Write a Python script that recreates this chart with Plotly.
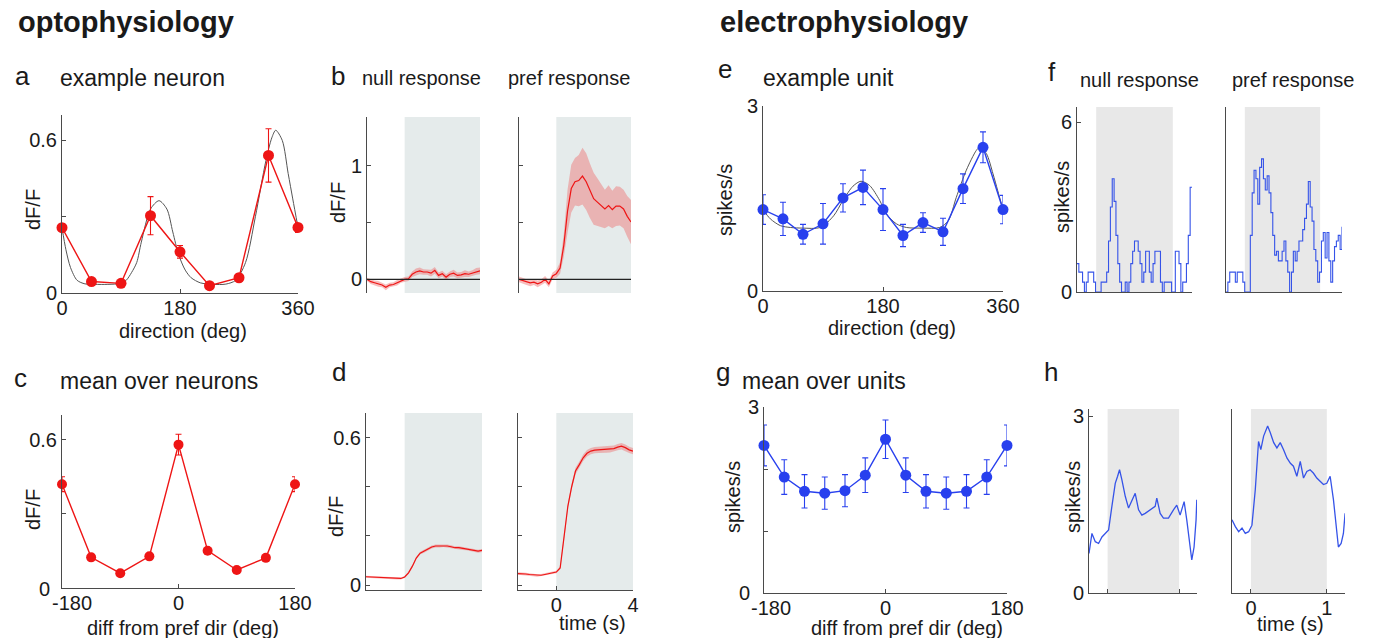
import numpy as np
import plotly.graph_objects as go

W, H = 1374, 638
FONT = "Liberation Sans, Arial, Helvetica, sans-serif"
TXT = "#1a1a1a"
AXC = "#4a4a4a"
RED = "#ee1515"
BLUE = "#2840ee"
BAND = "rgba(238,110,110,0.45)"
SHADE_OPTO = "#e5ebeb"
SHADE_EPHYS = "#e8e8e8"

# ---------------- data: optophysiology ----------------
dir_a = [0, 45, 90, 135, 180, 225, 270, 315, 360]
resp_a = [0.257, 0.045, 0.038, 0.304, 0.162, 0.029, 0.06, 0.541, 0.258]
err_a = [0.015, 0.008, 0.008, 0.075, 0.025, 0.006, 0.015, 0.105, 0.02]
fit_dir_a = [0, 6, 13, 23, 35, 50, 70, 90, 98, 106, 114, 121, 135, 148, 160, 169, 178, 188, 197,
             211, 230, 250, 265, 280, 295, 311, 320, 326, 336, 345, 352, 360]
fit_a = [0.257, 0.17, 0.10, 0.05, 0.036, 0.034, 0.034, 0.038, 0.05, 0.08, 0.12, 0.20, 0.33, 0.363,
         0.33, 0.24, 0.15, 0.09, 0.06, 0.04, 0.034, 0.035, 0.05, 0.12, 0.30, 0.52, 0.61, 0.64,
         0.60, 0.47, 0.37, 0.258]

t_opto = np.linspace(-2, 4, 31)          # time base (s), 0.2 s bins
stim_opto = [0, 4]
b_null_mean = [0.0, -0.02, -0.03, -0.04, -0.05, -0.07, -0.05, -0.045, -0.03, -0.01, 0.0, 0.005,
               0.045, 0.065, 0.075, 0.065, 0.065, 0.055, 0.08, 0.035, 0.05, 0.02, 0.045, 0.055,
               0.035, 0.04, 0.05, 0.045, 0.055, 0.07, 0.075]
b_null_sem = [0.015, 0.02, 0.02, 0.025, 0.02, 0.025, 0.02, 0.02, 0.025, 0.02, 0.02, 0.02, 0.025,
              0.03, 0.03, 0.025, 0.025, 0.03, 0.03, 0.025, 0.025, 0.025, 0.025, 0.03, 0.025,
              0.025, 0.03, 0.025, 0.025, 0.03, 0.03]
b_pref_mean = [0.0, -0.01, -0.025, -0.03, -0.025, -0.04, -0.025, 0.0, -0.04, 0.03, 0.05, 0.1, 0.3,
               0.6, 0.8, 0.86, 0.87, 0.91, 0.86, 0.78, 0.71, 0.68, 0.65, 0.62, 0.65, 0.615, 0.645,
               0.645, 0.62, 0.555, 0.505]
b_pref_sem = [0.025, 0.025, 0.025, 0.03, 0.025, 0.03, 0.025, 0.03, 0.03, 0.03, 0.035, 0.05, 0.1,
              0.19, 0.21, 0.21, 0.225, 0.25, 0.25, 0.24, 0.23, 0.21, 0.19, 0.17, 0.18, 0.165,
              0.175, 0.17, 0.17, 0.18, 0.195]

diff_c = [-180, -135, -90, -45, 0, 45, 90, 135, 180]
resp_c = [0.42, 0.124, 0.06, 0.128, 0.58, 0.151, 0.073, 0.122, 0.42]
err_c = [0.03, 0.008, 0.006, 0.008, 0.042, 0.008, 0.006, 0.008, 0.03]

d_null_mean = [0.034, 0.033, 0.032, 0.031, 0.030, 0.030, 0.029, 0.028, 0.027, 0.027, 0.033, 0.05,
               0.077, 0.11, 0.13, 0.138, 0.145, 0.155, 0.159, 0.159, 0.161, 0.159, 0.156, 0.152,
               0.152, 0.149, 0.148, 0.145, 0.142, 0.138, 0.141]
d_null_sem = [0.004, 0.004, 0.004, 0.004, 0.004, 0.004, 0.004, 0.004, 0.004, 0.004, 0.004, 0.005,
              0.005, 0.005, 0.006, 0.006, 0.006, 0.006, 0.006, 0.006, 0.006, 0.006, 0.006, 0.006,
              0.006, 0.006, 0.006, 0.006, 0.006, 0.006, 0.006]
d_pref_mean = [0.047, 0.047, 0.045, 0.043, 0.041, 0.039, 0.04, 0.043, 0.046, 0.05, 0.053, 0.07,
               0.186, 0.32, 0.40, 0.464, 0.49, 0.518, 0.536, 0.545, 0.549, 0.55, 0.549, 0.551,
               0.552, 0.555, 0.561, 0.565, 0.559, 0.55, 0.545]
d_pref_sem = [0.005, 0.005, 0.005, 0.005, 0.005, 0.005, 0.005, 0.005, 0.005, 0.005, 0.005, 0.006,
              0.008, 0.01, 0.012, 0.013, 0.013, 0.013, 0.013, 0.013, 0.013, 0.013, 0.013, 0.013,
              0.013, 0.013, 0.013, 0.013, 0.013, 0.013, 0.013]

# ---------------- data: electrophysiology ----------------
dir_e = [0, 30, 60, 90, 120, 150, 180, 210, 240, 270, 300, 330, 360]
resp_e = [1.32, 1.17, 0.92, 1.09, 1.51, 1.68, 1.32, 0.90, 1.11, 0.96, 1.66, 2.33, 1.32]
err_e = [0.24, 0.27, 0.16, 0.33, 0.23, 0.28, 0.34, 0.18, 0.16, 0.22, 0.24, 0.25, 0.23]
fit_dir_e = [0, 11, 26, 41, 60, 86, 106, 120, 135, 147, 160, 175, 185, 200, 215, 240, 265, 278,
             290, 305, 320, 325, 335, 345, 352, 360]
fit_e = [1.32, 1.17, 1.06, 1.03, 1.02, 1.03, 1.22, 1.47, 1.70, 1.78, 1.71, 1.47, 1.25, 1.09, 1.03,
         1.02, 1.03, 1.14, 1.52, 1.96, 2.28, 2.33, 2.23, 1.90, 1.63, 1.32]

t_f_null = np.linspace(-0.25, 1.25, 63)   # 25 ms bins
t_f_pref = np.linspace(-0.25, 1.29, 63)
stim_ephys = [0, 1]
f_null = [1.0, 0.7, 0.7, 0.35, 0, 0.35, 0.7, 0.7, 0.7, 0.35, 0, 0, 0, 0.35, 0.35, 0.35, 0.7, 1.8,
          3.0, 4.0, 3.2, 2.0, 1.0, 0.35, 0, 0, 0.35, 0, 0.35, 1.0, 1.44, 1.8, 1.8, 1.44, 1.0,
          0.35, 0.7, 1.44, 1.44, 0.7, 0.35, 1.0, 1.44, 1.44, 1.44, 0.35, 0, 0.35, 0.35, 0.35,
          0.35, 0, 0, 1.44, 1.44, 1.0, 0, 0.35, 0.35, 1.0, 2.0, 3.7, 3.7]
f_pref = [0, 0.35, 0.7, 0.7, 0.7, 0.35, 0.7, 0.7, 0.7, 0.35, 0, 0, 0, 2.0, 3.5, 4.3, 4.0, 3.1,
          4.4, 4.7, 4.0, 3.6, 4.1, 3.5, 2.8, 2.0, 1.3, 1.44, 1.1, 1.1, 1.44, 1.8, 1.1, 0.7, 0,
          0.7, 1.44, 1.1, 1.44, 1.8, 1.8, 2.2, 2.6, 3.1, 3.9, 3.0, 2.5, 1.5, 1.1, 0.35, 0.7, 1.8,
          2.1, 1.2, 2.1, 1.1, 0.35, 1.1, 1.6, 1.8, 2.0, 1.5, 2.3]

diff_g = [-180, -150, -120, -90, -60, -30, 0, 30, 60, 90, 120, 150, 180]
resp_g = [2.38, 1.87, 1.64, 1.61, 1.65, 1.90, 2.48, 1.90, 1.64, 1.61, 1.64, 1.87, 2.38]
err_g = [0.33, 0.28, 0.27, 0.26, 0.26, 0.28, 0.31, 0.28, 0.27, 0.26, 0.27, 0.28, 0.33]

h_null_t = [-0.26, -0.219, -0.172, -0.126, -0.079, -0.033, 0.014, 0.06, 0.107, 0.14, 0.167, 0.2,
            0.247, 0.293, 0.34, 0.386, 0.433, 0.479, 0.526, 0.595, 0.665, 0.688, 0.735, 0.781,
            0.851, 0.921, 0.967, 1.014, 1.07, 1.107, 1.144, 1.177, 1.209, 1.237, 1.247]
h_null = [0.67, 1.01, 0.87, 0.84, 0.95, 1.01, 1.07, 1.47, 1.86, 1.98, 2.09, 1.92, 1.64, 1.44, 1.58,
          1.69, 1.41, 1.32, 1.35, 1.41, 1.47, 1.61, 1.35, 1.27, 1.27, 1.41, 1.49, 1.32, 1.55, 1.24,
          0.84, 0.56, 0.78, 1.24, 1.58]
h_pref_t = [-0.25, -0.206, -0.162, -0.118, -0.075, -0.03, 0.013, 0.057, 0.1, 0.13, 0.167, 0.22,
            0.254, 0.3, 0.342, 0.386, 0.43, 0.474, 0.52, 0.56, 0.605, 0.65, 0.693, 0.737, 0.78,
            0.825, 0.868, 0.912, 0.956, 1.0, 1.044, 1.088, 1.123, 1.153, 1.189, 1.219, 1.241]
h_pref = [1.24, 1.125, 1.04, 1.10, 1.01, 1.04, 1.15, 1.75, 2.57, 2.43, 2.66, 2.83, 2.72, 2.55,
          2.46, 2.55, 2.43, 2.29, 2.20, 2.15, 1.98, 2.23, 1.95, 2.06, 2.09, 2.03, 1.95, 1.89, 1.84,
          1.86, 1.98, 1.58, 1.125, 0.78, 0.84, 1.01, 1.35]

# ---------------- layout helpers ----------------
def px_dom(x0, x1, y0, y1):
    return [x0 / W, x1 / W], [1 - y1 / H, 1 - y0 / H]

boxes = {
    1: (62, 298, 115, 293),    # a
    2: (367, 480, 117, 293),   # b null
    3: (519, 631, 117, 293),   # b pref
    4: (62, 295, 415, 588),    # c
    5: (366, 482, 413, 590),   # d null
    6: (518, 633, 413, 590),   # d pref
    7: (763, 1003, 106, 291),  # e
    8: (1077, 1192, 107, 292), # f null
    9: (1226, 1342, 107, 292), # f pref
    10: (764, 1007, 407, 593), # g
    11: (1089, 1197, 409, 593),# h null
    12: (1232, 1345, 409, 593),# h pref
}

def base_axis(**kw):
    d = dict(showgrid=False, zeroline=False, showline=True, linecolor=AXC, linewidth=1,
             ticks="inside", ticklen=4, tickcolor=AXC, tickwidth=1, automargin=False,
             tickfont=dict(size=20, color=TXT, family=FONT), fixedrange=True)
    d.update(kw)
    return d

# corner labels ("0" on y and "-180" on x) of panels c and g are placed as annotations below,
# offset like in the original so they do not collide
xspec = {
    1: dict(range=[0, 360], tickvals=[0, 180, 360]),
    2: dict(range=[-2, 4], showline=False, ticks="", showticklabels=False),
    3: dict(range=[-2, 4], showline=False, ticks="", showticklabels=False),
    4: dict(range=[-180, 180], tickvals=[-180, 0, 180], ticktext=["", "0", "180"]),
    5: dict(range=[-2, 4], ticks="", showticklabels=False),
    6: dict(range=[-2, 4], tickvals=[0, 4]),
    7: dict(range=[0, 360], tickvals=[0, 180, 360]),
    8: dict(range=[-0.25, 1.25], ticks="", showticklabels=False),
    9: dict(range=[-0.25, 1.29], ticks="", showticklabels=False),
    10: dict(range=[-180, 180], tickvals=[-180, 0, 180], ticktext=["", "0", "180"]),
    11: dict(range=[-0.26, 1.25], tickvals=[0, 1], showticklabels=False),
    12: dict(range=[-0.25, 1.24], tickvals=[0, 1]),
}
yspec = {
    1: dict(range=[0, 0.7], tickvals=[0, 0.3, 0.6], ticktext=["0", "", "0.6"]),
    2: dict(range=[-0.12, 1.43], tickvals=[0, 0.5, 1], ticktext=["0", "", "1"]),
    3: dict(range=[-0.12, 1.43], tickvals=[0, 0.5, 1], showticklabels=False),
    4: dict(range=[0, 0.7], tickvals=[0, 0.3, 0.6], ticktext=["", "", "0.6"]),
    5: dict(range=[-0.02, 0.70], tickvals=[0, 0.2, 0.4, 0.6], ticktext=["0", "", "", "0.6"]),
    6: dict(range=[-0.02, 0.70], tickvals=[0, 0.2, 0.4, 0.6], showticklabels=False),
    7: dict(range=[0, 3], tickvals=[0, 3]),
    8: dict(range=[0, 6.53], tickvals=[0, 6]),
    9: dict(range=[0, 6.53], ticks="", showticklabels=False),
    10: dict(range=[0, 3], tickvals=[0, 1, 2, 3], ticktext=["", "", "", "3"]),
    11: dict(range=[0, 3.12], tickvals=[0, 3]),
    12: dict(range=[0, 3.12], ticks="", showticklabels=False),
}

layout = dict(template="none", width=W, height=H, autosize=False,
              margin=dict(l=0, r=0, t=0, b=0, pad=0, autoexpand=False), paper_bgcolor="white",
              plot_bgcolor="rgba(0,0,0,0)", showlegend=False,
              font=dict(family=FONT, color=TXT))
for i, (x0, x1, y0, y1) in boxes.items():
    xd, yd = px_dom(x0, x1, y0, y1)
    sx = "" if i == 1 else str(i)
    layout["xaxis" + sx] = base_axis(domain=xd, anchor="y" + sx, ticklabelstandoff=-3, **xspec[i])
    layout["yaxis" + sx] = base_axis(domain=yd, anchor="x" + sx, **yspec[i])

fig = go.Figure(layout=layout)

def ax(i):
    return ("x", "y") if i == 1 else ("x" + str(i), "y" + str(i))

# ---------------- shapes: stimulus shading and zero lines ----------------
shapes = []
for i, stim, col in [(2, stim_opto, SHADE_OPTO), (3, stim_opto, SHADE_OPTO),
                     (5, stim_opto, SHADE_OPTO), (6, stim_opto, SHADE_OPTO),
                     (8, stim_ephys, SHADE_EPHYS), (9, stim_ephys, SHADE_EPHYS),
                     (11, stim_ephys, SHADE_EPHYS), (12, stim_ephys, SHADE_EPHYS)]:
    xa, ya = ax(i)
    shapes.append(dict(type="rect", xref=xa, yref=ya + " domain", x0=stim[0], x1=stim[1],
                       y0=0, y1=1, fillcolor=col, line=dict(width=0), layer="below"))
for i in (2, 3):
    xa, ya = ax(i)
    shapes.append(dict(type="line", xref=xa + " domain", yref=ya, x0=0, x1=1, y0=0, y1=0,
                       line=dict(color="#222", width=1.2)))
fig.update_layout(shapes=shapes)

# ---------------- traces ----------------
def tuning(i, xv, yv, ev, color, msize):
    xa, ya = ax(i)
    fig.add_trace(go.Scatter(x=xv, y=yv, xaxis=xa, yaxis=ya, mode="lines+markers",
                             line=dict(color=color, width=1.4),
                             marker=dict(color=color, size=msize),
                             error_y=dict(type="data", array=ev, color=color, thickness=1.1, width=3),
                             cliponaxis=False))

def fitline(i, xv, yv):
    xa, ya = ax(i)
    fig.add_trace(go.Scatter(x=xv, y=yv, xaxis=xa, yaxis=ya, mode="lines",
                             line=dict(color="#555", width=1, shape="spline", smoothing=0.8),
                             cliponaxis=False))

def band(i, t, m, s):
    xa, ya = ax(i)
    t = list(t)
    up = [a + b for a, b in zip(m, s)]
    lo = [a - b for a, b in zip(m, s)]
    fig.add_trace(go.Scatter(x=t + t[::-1], y=up + lo[::-1], xaxis=xa, yaxis=ya, mode="lines",
                             fill="toself", fillcolor=BAND, line=dict(width=0), hoverinfo="skip"))
    fig.add_trace(go.Scatter(x=t, y=m, xaxis=xa, yaxis=ya, mode="lines",
                             line=dict(color=RED, width=1.2)))

# a
fitline(1, fit_dir_a, fit_a)
tuning(1, dir_a, resp_a, err_a, RED, 11)
# b
band(2, t_opto, b_null_mean, b_null_sem)
band(3, t_opto, b_pref_mean, b_pref_sem)
# c
tuning(4, diff_c, resp_c, err_c, RED, 10)
# d
band(5, t_opto, d_null_mean, d_null_sem)
band(6, t_opto, d_pref_mean, d_pref_sem)
# e
fitline(7, fit_dir_e, fit_e)
tuning(7, dir_e, resp_e, err_e, BLUE, 11)
# f
for i, t, v in [(8, t_f_null, f_null), (9, t_f_pref, f_pref)]:
    xa, ya = ax(i)
    fig.add_trace(go.Scatter(x=t, y=v, xaxis=xa, yaxis=ya, mode="lines",
                             line=dict(color="#3553e8", width=1.1, shape="hv")))
# g
tuning(10, diff_g, resp_g, err_g, BLUE, 11)
# h
for i, t, v in [(11, h_null_t, h_null), (12, h_pref_t, h_pref)]:
    xa, ya = ax(i)
    fig.add_trace(go.Scatter(x=t, y=v, xaxis=xa, yaxis=ya, mode="lines",
                             line=dict(color="#3553e8", width=1.3)))

# ---------------- text ----------------
def txt(s, x, y, size, bold=False, xanchor="left", angle=0):
    return dict(text=("<b>%s</b>" % s) if bold else s, x=x / W, y=1 - y / H, xref="paper",
                yref="paper", showarrow=False, xanchor=xanchor, yanchor="middle",
                textangle=angle, font=dict(size=size, color=TXT, family=FONT))

ann = [
    txt("optophysiology", 16, 22, 29, bold=True),
    txt("electrophysiology", 718, 22, 29, bold=True),
    txt("a", 13, 76, 26), txt("example neuron", 58, 78, 23),
    txt("b", 329, 76, 26), txt("null response", 422, 78, 20, xanchor="center"),
    txt("pref response", 569, 78, 20, xanchor="center"),
    txt("c", 12, 378, 26), txt("mean over neurons", 58, 381, 23),
    txt("d", 330, 372, 26),
    txt("e", 716, 69, 26), txt("example unit", 761, 78, 23),
    txt("f", 1046, 72, 26), txt("null response", 1139, 80, 20, xanchor="center"),
    txt("pref response", 1293, 80, 20, xanchor="center"),
    txt("g", 714, 372, 26), txt("mean over units", 740, 381, 23),
    txt("h", 1042, 372, 26),
    # corner tick labels of c and g
    txt("0", 44, 589, 20, xanchor="center"),
    txt("-180", 72, 603, 20, xanchor="center"),
    txt("0", 744, 593, 20, xanchor="center"),
    txt("-180", 771, 608, 20, xanchor="center"),
    # axis titles
    txt("dF/F", 33, 210, 20, xanchor="center", angle=-90),
    txt("direction (deg)", 183, 331, 20, xanchor="center"),
    txt("dF/F", 338, 203, 20, xanchor="center", angle=-90),
    txt("dF/F", 33, 510, 20, xanchor="center", angle=-90),
    txt("diff from pref dir (deg)", 183, 628, 20, xanchor="center"),
    txt("dF/F", 336, 517, 20, xanchor="center", angle=-90),
    txt("time (s)", 592, 623, 20, xanchor="center"),
    txt("spikes/s", 725, 200, 20, xanchor="center", angle=-90),
    txt("direction (deg)", 892, 328, 20, xanchor="center"),
    txt("spikes/s", 1062, 197, 20, xanchor="center", angle=-90),
    txt("spikes/s", 733, 497, 20, xanchor="center", angle=-90),
    txt("diff from pref dir (deg)", 907, 628, 20, xanchor="center"),
    txt("spikes/s", 1073, 497, 20, xanchor="center", angle=-90),
    txt("time (s)", 1290, 624, 20, xanchor="center"),
]
fig.update_layout(annotations=ann)

fig.write_html("out.html", config={"displayModeBar": False},
               post_script="document.body.style.margin='0px';document.body.style.overflow='hidden';")
